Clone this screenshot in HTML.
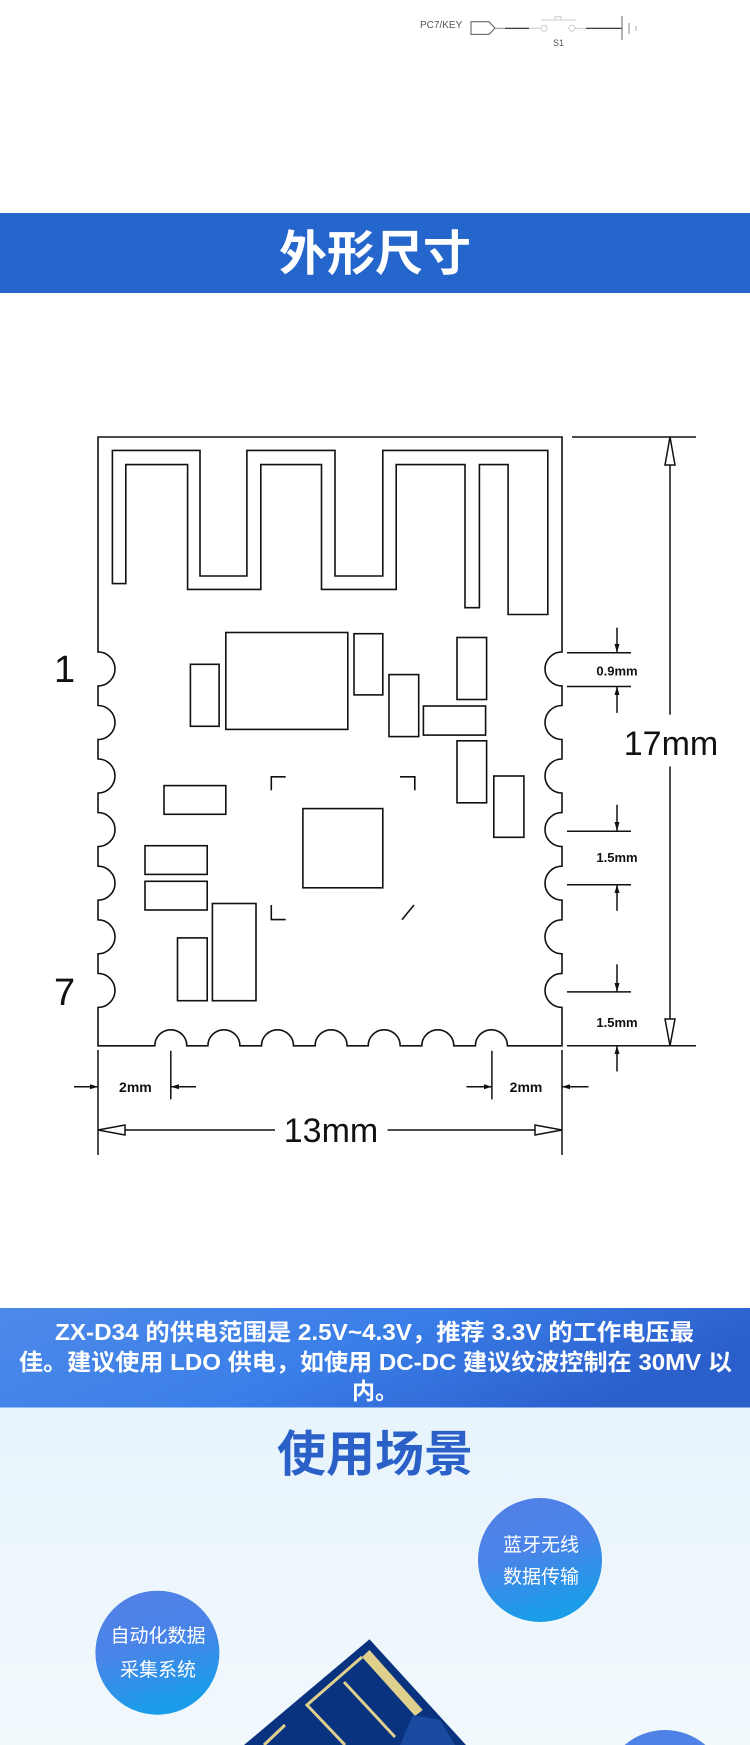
<!DOCTYPE html>
<html><head><meta charset="utf-8"><style>
html,body{margin:0;padding:0;background:#fff;width:750px;height:1745px;overflow:hidden;}
svg{display:block;overflow:hidden;}
text{font-family:"Liberation Sans","Noto Sans CJK SC",sans-serif;}
</style></head><body>
<svg width="750" height="1745" viewBox="0 0 750 1745" xmlns="http://www.w3.org/2000/svg">
<defs>
<linearGradient id="band" x1="0" y1="0" x2="1" y2="0.3"><stop offset="0" stop-color="#4d8ae9"/><stop offset="0.55" stop-color="#3a7ee8"/><stop offset="1" stop-color="#2b5fcc"/></linearGradient>
<linearGradient id="bg" x1="0" y1="0" x2="0" y2="1"><stop offset="0" stop-color="#e7f3fb"/><stop offset="1" stop-color="#f2f9fd"/></linearGradient>
<linearGradient id="circ" x1="0" y1="0" x2="0.3" y2="1"><stop offset="0" stop-color="#527fe6"/><stop offset="0.5" stop-color="#4a84e8"/><stop offset="1" stop-color="#1a9ce9"/></linearGradient>
<clipPath id="pg"><rect x="0" y="0" width="750" height="1745"/></clipPath>
</defs>
<g clip-path="url(#pg)">
<text x="420" y="28" font-size="10" fill="#555">PC7/KEY</text>
<path d="M471 21.8 H489 L495 28.3 L489 34.4 H471 Z" fill="none" stroke="#555" stroke-width="1"/>
<line x1="495" y1="28.3" x2="505" y2="28.3" stroke="#888"/>
<line x1="505" y1="28.3" x2="529" y2="28.3" stroke="#222" stroke-width="1.2"/>
<line x1="529" y1="28.3" x2="541" y2="28.3" stroke="#ccc"/>
<circle cx="544" cy="28.3" r="3" fill="none" stroke="#ccc"/>
<circle cx="571.8" cy="28.3" r="3" fill="none" stroke="#ccc"/>
<line x1="541" y1="20" x2="576" y2="20" stroke="#ccc"/>
<path d="M555 20 V16.8 H561 V20" fill="none" stroke="#ccc"/>
<line x1="575" y1="28.3" x2="586" y2="28.3" stroke="#ccc"/>
<line x1="586" y1="28.3" x2="622" y2="28.3" stroke="#222" stroke-width="1.2"/>
<line x1="622" y1="16" x2="622" y2="40" stroke="#666"/>
<line x1="629" y1="23" x2="629" y2="34" stroke="#888"/>
<line x1="636" y1="26" x2="636" y2="31" stroke="#aaa"/>
<text x="553" y="46" font-size="9" fill="#555">S1</text>
<rect x="0" y="213" width="750" height="80" fill="#2566cc"/>
<text x="375" y="270" font-size="48" font-weight="bold" fill="#fff" text-anchor="middle">外形尺寸</text>
<g fill="none" stroke="#111" stroke-width="1.6">
<path d="M98 437 H562 V651.9 A17 17 0 0 0 562 685.9 V705.5 A17 17 0 0 0 562 739.5 V759 A17 17 0 0 0 562 793 V812.6 A17 17 0 0 0 562 846.6 V866.2 A17 17 0 0 0 562 900.2 V919.8 A17 17 0 0 0 562 953.8 V973.4 A17 17 0 0 0 562 1007.4 V1045.8 H507.4 A16 16 0 0 0 475.4 1045.8 H453.8 A16 16 0 0 0 421.8 1045.8 H400.2 A16 16 0 0 0 368.2 1045.8 H347.1 A16 16 0 0 0 315.1 1045.8 H293.5 A16 16 0 0 0 261.5 1045.8 H239.9 A16 16 0 0 0 207.9 1045.8 H186.8 A16 16 0 0 0 154.8 1045.8 H98 V1007.4 A17 17 0 0 0 98 973.4 V953.8 A17 17 0 0 0 98 919.8 V900.2 A17 17 0 0 0 98 866.2 V846.6 A17 17 0 0 0 98 812.6 V793 A17 17 0 0 0 98 759 V739.5 A17 17 0 0 0 98 705.5 V685.9 A17 17 0 0 0 98 651.9 Z"/>
<path d="M112.4 583.6 V450.4 H200 V576 H246.9 V450.4 H335 V576 H382.8 V450.4 H547.8 V614.5 H508.1 V464.6 H479.4 V607.7 H465 V464.6 H396.2 V589.4 H321.5 V464.6 H260.8 V589.4 H187.6 V464.6 H125.8 V583.6 Z"/>
<rect x="225.8" y="632.5" width="122" height="96.9"/>
<rect x="354" y="633.7" width="28.8" height="61.2"/>
<rect x="190.4" y="664.3" width="28.7" height="62"/>
<rect x="389" y="674.6" width="29.7" height="62"/>
<rect x="457" y="637.5" width="29.6" height="62"/>
<rect x="423.4" y="706" width="62.2" height="29.1"/>
<rect x="457" y="740.8" width="29.6" height="62"/>
<rect x="493.8" y="776" width="30.1" height="61.3"/>
<rect x="164" y="785.6" width="61.8" height="28.7"/>
<rect x="302.9" y="808.6" width="79.9" height="79.2"/>
<rect x="145" y="845.7" width="62.2" height="28.7"/>
<rect x="145" y="881.3" width="62.2" height="28.7"/>
<rect x="212.4" y="903.5" width="43.6" height="97.2"/>
<rect x="177.5" y="937.9" width="29.7" height="62.8"/>
<path d="M271.3 790.2 V776.8 H285.7"/>
<path d="M400 776.8 H414.8 V790.2"/>
<path d="M271.3 905 V919.6 H285.7"/>
<path d="M414 905 L402 919.6"/>
</g>
<text x="64.6" y="682" font-size="38" fill="#111" text-anchor="middle">1</text>
<text x="64.6" y="1005" font-size="38" fill="#111" text-anchor="middle">7</text>
<g stroke="#111" stroke-width="1.5" fill="none">
<line x1="572" y1="437" x2="696" y2="437"/>
<line x1="567" y1="1045.8" x2="696" y2="1045.8"/>
<line x1="670" y1="437" x2="670" y2="714.8"/>
<line x1="670" y1="766.5" x2="670" y2="1045.8"/>
<path d="M670 437 L675 465 H665 Z" fill="#fff"/>
<path d="M670 1045.8 L675 1019 H665 Z" fill="#fff"/>
<line x1="567" y1="652.8" x2="631" y2="652.8"/>
<line x1="567" y1="686.5" x2="631" y2="686.5"/>
<line x1="567" y1="831.2" x2="631" y2="831.2"/>
<line x1="567" y1="884.7" x2="631" y2="884.7"/>
<line x1="567" y1="991.9" x2="631" y2="991.9"/>
<line x1="617" y1="627.6" x2="617" y2="652.8"/>
<line x1="617" y1="686.5" x2="617" y2="712.9"/>
<line x1="617" y1="804.7" x2="617" y2="831.2"/>
<line x1="617" y1="884.7" x2="617" y2="910.8"/>
<line x1="617" y1="964.3" x2="617" y2="991.9"/>
<line x1="617" y1="1045.8" x2="617" y2="1071.5"/>
</g>
<g fill="#111">
<path d="M617 652.8 L614.5 644 H619.5 Z"/>
<path d="M617 686.5 L614.5 695 H619.5 Z"/>
<path d="M617 831.2 L614.5 822 H619.5 Z"/>
<path d="M617 884.7 L614.5 893 H619.5 Z"/>
<path d="M617 991.9 L614.5 983 H619.5 Z"/>
<path d="M617 1045.8 L614.5 1054 H619.5 Z"/>
</g>
<text x="617" y="675.5" font-size="13" font-weight="bold" fill="#111" text-anchor="middle">0.9mm</text>
<text x="617" y="862" font-size="13" font-weight="bold" fill="#111" text-anchor="middle">1.5mm</text>
<text x="617" y="1027" font-size="13" font-weight="bold" fill="#111" text-anchor="middle">1.5mm</text>
<text x="671" y="755" font-size="34" fill="#111" text-anchor="middle">17mm</text>
<g stroke="#111" stroke-width="1.5" fill="none">
<line x1="98" y1="1050" x2="98" y2="1155"/>
<line x1="562" y1="1050" x2="562" y2="1155"/>
<line x1="170.8" y1="1050.8" x2="170.8" y2="1099.4"/>
<line x1="491.9" y1="1050.8" x2="491.9" y2="1099.4"/>
<line x1="74" y1="1086.8" x2="98" y2="1086.8"/>
<line x1="170.8" y1="1086.8" x2="196" y2="1086.8"/>
<line x1="466.5" y1="1086.8" x2="491.9" y2="1086.8"/>
<line x1="562" y1="1086.8" x2="588.5" y2="1086.8"/>
<line x1="98" y1="1130" x2="275" y2="1130"/>
<line x1="387.6" y1="1130" x2="562" y2="1130"/>
<path d="M98 1130 L125 1125 V1135 Z" fill="#fff"/>
<path d="M562 1130 L535 1125 V1135 Z" fill="#fff"/>
</g>
<g fill="#111">
<path d="M98 1086.8 L90 1084.3 V1089.3 Z"/>
<path d="M170.8 1086.8 L179 1084.3 V1089.3 Z"/>
<path d="M491.9 1086.8 L484 1084.3 V1089.3 Z"/>
<path d="M562 1086.8 L570 1084.3 V1089.3 Z"/>
</g>
<text x="135.4" y="1092" font-size="14" font-weight="bold" fill="#111" text-anchor="middle">2mm</text>
<text x="526" y="1092" font-size="14" font-weight="bold" fill="#111" text-anchor="middle">2mm</text>
<text x="331" y="1142" font-size="34" fill="#111" text-anchor="middle">13mm</text>
<rect x="0" y="1308" width="750" height="99.5" fill="url(#band)"/>
<g font-size="23" font-weight="bold" fill="#fff">
<text x="55" y="1340" textLength="639" lengthAdjust="spacingAndGlyphs">ZX-D34 的供电范围是 2.5V~4.3V，推荐 3.3V 的工作电压最</text>
<text x="19" y="1370" textLength="713" lengthAdjust="spacingAndGlyphs">佳。建议使用 LDO 供电，如使用 DC-DC 建议纹波控制在 30MV 以</text>
<text x="352" y="1399">内。</text>
</g>
<rect x="0" y="1407.5" width="750" height="338" fill="url(#bg)"/>
<text x="375" y="1471" font-size="49" font-weight="bold" fill="#2a60c8" text-anchor="middle">使用场景</text>
<circle cx="540" cy="1560" r="62" fill="url(#circ)"/>
<text x="541" y="1551" font-size="19" fill="#fff" text-anchor="middle">蓝牙无线</text>
<text x="541" y="1583" font-size="19" fill="#fff" text-anchor="middle">数据传输</text>
<circle cx="157.4" cy="1652.7" r="62" fill="url(#circ)"/>
<text x="158" y="1642" font-size="19" fill="#fff" text-anchor="middle">自动化数据</text>
<text x="158" y="1676" font-size="19" fill="#fff" text-anchor="middle">采集系统</text>
<path d="M624.6 1745 A62 62 0 0 1 705.4 1745 Z" fill="#4f82e7"/>
<path d="M369.5 1639.3 L466 1745 L244 1745 Z" fill="#0a337f"/>
<path d="M369.5 1650 L422.8 1710 L415 1716 L362 1657 Z" fill="#e0d08e"/>
<g fill="none" stroke="#e0d08e" stroke-width="3">
<path d="M362 1657 L307 1705 L345 1745"/>
<path d="M344 1682 L395 1737"/>
<path d="M285 1725 L264 1745"/>
</g>
<path d="M413 1715 L440 1720 L455 1745 L400 1745 Z" fill="#1a4aa0"/>
</g>
</svg>
</body></html>
